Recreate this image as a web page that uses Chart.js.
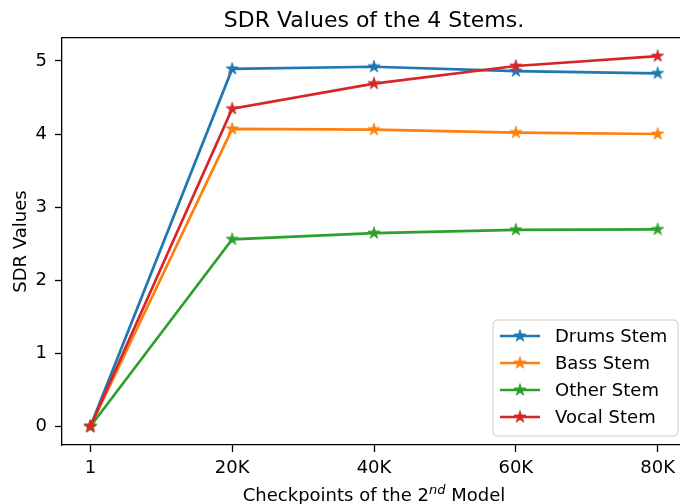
<!DOCTYPE html>
<html lang="en">
<head>
  <meta charset="UTF-8">
  <title>SDR Values of the 4 Stems.</title>
  <script src="https://cdn.jsdelivr.net/npm/chart.js"></script>
  <style>
    body {
      margin: 0;
      overflow: hidden;
      background: white;
    }
  </style>
</head>
<body>

<canvas id="myChart" width="700" height="504"></canvas>

<script>
  // Data
  const checkpoints = ['1', '20K', '40K', '60K', '80K'];
  const drums = [0, 4.89, 4.92, 4.86, 4.83];
  const bass = [0, 4.07, 4.06, 4.02, 4.00];
  const other = [0, 2.56, 2.645, 2.69, 2.695];
  const vocal = [0, 4.345, 4.69, 4.93, 5.065];
  const yTicks = [0, 1, 2, 3, 4, 5];

  const FONT = 'DejaVu Sans';

  // filled five-point star like matplotlib's '*' marker
  function starImage(color) {
    const c = document.createElement('canvas');
    c.width = 16; c.height = 16;
    const g = c.getContext('2d');
    const R = 6.4, r = R * 0.382;
    g.beginPath();
    for (let i = 0; i < 10; i++) {
      const rad = i % 2 === 0 ? R : r;
      const a = -Math.PI / 2 + i * Math.PI / 5;
      const px = 8 + rad * Math.cos(a), py = 8 + rad * Math.sin(a);
      if (i === 0) g.moveTo(px, py); else g.lineTo(px, py);
    }
    g.closePath();
    g.fillStyle = color;
    g.fill();
    g.strokeStyle = color;
    g.lineWidth = 0.8;
    g.stroke();
    return c;
  }

  function series(label, values, color, order) {
    return {
      label: label,
      data: values.map((v, i) => ({ x: i, y: v })),
      borderColor: color,
      backgroundColor: color,
      borderWidth: 2.7,
      pointStyle: starImage(color),
      pointRadius: 6,
      tension: 0,
      order: order,
      clip: false
    };
  }

  // legend box like matplotlib's, bottom right inside the axes
  const boxLegend = {
    id: 'boxLegend',
    afterDatasetsDraw(chart) {
      const { ctx, chartArea } = chart;
      const right = chartArea.right - 8, bottom = chartArea.bottom - 9;
      const w = 185, h = 116;
      const left = right - w, top = bottom - h;
      ctx.save();
      ctx.beginPath();
      ctx.roundRect(left, top, w, h, 4);
      ctx.fillStyle = 'rgba(255,255,255,0.8)';
      ctx.fill();
      ctx.strokeStyle = '#cccccc';
      ctx.lineWidth = 1;
      ctx.stroke();
      ctx.font = '18px ' + FONT;
      ctx.textBaseline = 'middle';
      chart.data.datasets.forEach((ds, i) => {
        const y = top + 16 + i * 27;
        ctx.beginPath();
        ctx.moveTo(left + 7, y);
        ctx.lineTo(left + 47, y);
        ctx.strokeStyle = ds.borderColor;
        ctx.lineWidth = 2.7;
        ctx.stroke();
        ctx.drawImage(ds.pointStyle, left + 27 - 8, y - 8);
        ctx.fillStyle = '#000';
        ctx.fillText(ds.label, left + 62, y + 1);
      });
      ctx.restore();
    }
  };

  // x axis label with a real superscript "nd"
  const xLabel = {
    id: 'xLabel',
    afterDraw(chart) {
      const { ctx, chartArea } = chart;
      const parts = [
        { t: 'Checkpoints of the 2', f: '18px ' + FONT, dy: 0 },
        { t: 'nd', f: 'italic 13px ' + FONT, dy: -7 },
        { t: ' Model', f: '18px ' + FONT, dy: 0 }
      ];
      ctx.save();
      let total = 0;
      parts.forEach(p => { ctx.font = p.f; p.w = ctx.measureText(p.t).width; total += p.w; });
      let x = (chartArea.left + chartArea.right) / 2 - total / 2;
      const base = 501;
      ctx.fillStyle = '#000';
      ctx.textBaseline = 'alphabetic';
      parts.forEach(p => {
        ctx.font = p.f;
        ctx.fillText(p.t, x, base + p.dy);
        x += p.w;
      });
      ctx.restore();
    }
  };

  const ctx = document.getElementById('myChart').getContext('2d');
  const myChart = new Chart(ctx, {
    type: 'line',
    data: {
      datasets: [
        series('Drums Stem', drums, '#1f77b4', 3),
        series('Bass Stem', bass, '#ff7f0e', 2),
        series('Other Stem', other, '#2ca02c', 1),
        series('Vocal Stem', vocal, '#d62728', 0)
      ]
    },
    plugins: [boxLegend, xLabel],
    options: {
      responsive: false,
      animation: false,
      layout: { padding: { left: 0, right: 14, top: 0, bottom: 0 } },
      plugins: {
        legend: { display: false },
        tooltip: { enabled: false },
        title: { display: false }
      },
      scales: {
        x: {
          type: 'linear',
          position: 'bottom',
          min: -0.2,
          max: 4.2,
          afterFit: s => { s.height = 59; },
          afterBuildTicks: s => { s.ticks = checkpoints.map((_, i) => ({ value: i })); },
          ticks: {
            callback: v => checkpoints[v],
            color: '#000',
            font: { family: FONT, size: 18 },
            padding: 6,
            maxRotation: 0,
            autoSkip: false
          },
          grid: { drawOnChartArea: false, drawTicks: true, tickLength: 7, tickColor: '#000', tickWidth: 1.3 },
          border: { color: '#000', width: 1.3 },
          title: { display: false }
        },
        top: {
          type: 'linear',
          position: 'top',
          min: -0.2,
          max: 4.2,
          afterFit: s => { s.height = 38; },
          ticks: { display: false },
          grid: { drawOnChartArea: false, drawTicks: false },
          border: { color: '#000', width: 1.3 },
          title: {
            display: true,
            text: 'SDR Values of the 4 Stems.',
            color: '#000',
            font: { family: FONT, size: 22 },
            padding: { top: 8, bottom: 0 }
          }
        },
        y: {
          type: 'linear',
          min: -0.253,
          max: 5.313,
          afterFit: s => { s.width = 62; },
          afterBuildTicks: s => { s.ticks = yTicks.map(v => ({ value: v })); },
          ticks: {
            color: '#000',
            font: { family: FONT, size: 18 },
            padding: 8
          },
          grid: { drawOnChartArea: false, drawTicks: true, tickLength: 7, tickColor: '#000', tickWidth: 1.3 },
          border: { color: '#000', width: 1.3 },
          title: {
            display: true,
            text: 'SDR Values',
            color: '#000',
            font: { family: FONT, size: 18 },
            padding: { top: 11, bottom: 0 }
          }
        }
      }
    }
  });
</script>

</body>
</html>
